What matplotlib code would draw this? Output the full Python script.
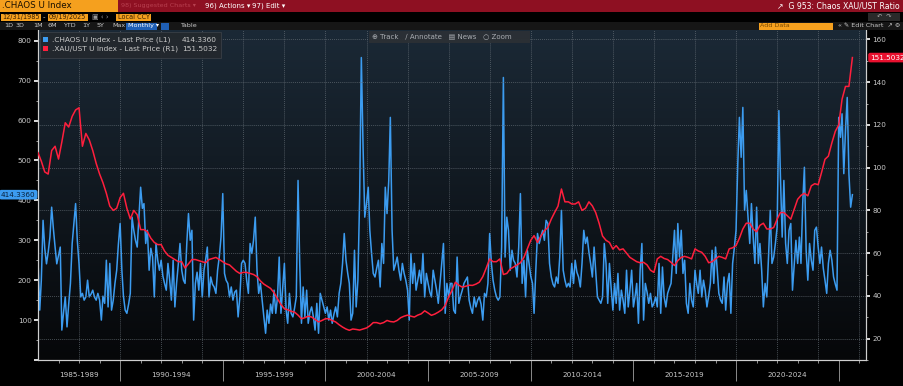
import matplotlib.pyplot as plt
import matplotlib.patches as mpatches
import matplotlib.transforms as mtransforms
import numpy as np
import pandas as pd

# .CHAOS U Index, monthly, Jan 1986 .. Sep 2025 (left axis)
chaos = [
    250, 125, 200, 350, 280, 241, 270, 308, 383, 330, 283, 241,
    262, 283, 75, 120, 158, 83, 140, 192, 292, 340, 392, 300,
    241, 158, 167, 150, 158, 200, 158, 165, 175, 158, 150, 167,
    150, 100, 160, 142, 250, 133, 242, 125, 150, 192, 225, 290,
    342, 225, 160, 125, 117, 140, 167, 358, 325, 300, 283, 358,
    433, 380, 392, 292, 325, 225, 280, 258, 158, 292, 250, 225,
    250, 210, 192, 175, 242, 200, 150, 250, 133, 192, 240, 292,
    225, 200, 192, 292, 367, 300, 325, 100, 192, 220, 175, 242,
    158, 225, 250, 283, 158, 208, 190, 183, 167, 225, 260, 308,
    417, 217, 200, 192, 158, 183, 150, 170, 175, 108, 158, 242,
    250, 242, 200, 167, 292, 267, 300, 358, 225, 167, 192, 150,
    108, 67, 125, 92, 140, 117, 175, 117, 158, 258, 117, 180,
    242, 125, 92, 167, 117, 108, 130, 158, 450, 242, 92, 183,
    108, 175, 92, 120, 133, 108, 75, 142, 67, 167, 150, 133,
    117, 133, 100, 125, 92, 115, 133, 108, 167, 192, 242, 317,
    250, 217, 192, 100, 117, 275, 133, 200, 408, 758, 533, 358,
    392, 433, 325, 267, 217, 208, 230, 250, 183, 292, 242, 433,
    367, 450, 608, 325, 225, 240, 258, 225, 200, 242, 217, 200,
    175, 100, 267, 192, 242, 175, 200, 225, 192, 267, 158, 217,
    192, 170, 158, 225, 200, 175, 142, 192, 240, 292, 117, 192,
    158, 192, 192, 125, 117, 258, 142, 160, 175, 192, 200, 208,
    150, 130, 117, 158, 133, 150, 158, 140, 100, 167, 158, 192,
    317, 242, 200, 175, 158, 150, 158, 283, 708, 258, 358, 325,
    225, 275, 250, 242, 208, 283, 417, 192, 250, 158, 275, 242,
    210, 192, 117, 225, 317, 292, 310, 325, 300, 350, 342, 242,
    208, 190, 183, 208, 192, 258, 375, 225, 200, 183, 192, 183,
    242, 192, 250, 220, 208, 183, 242, 325, 292, 308, 270, 242,
    208, 283, 225, 158, 150, 142, 158, 292, 242, 142, 242, 180,
    125, 192, 142, 217, 125, 175, 150, 117, 225, 133, 175, 225,
    133, 160, 192, 92, 225, 292, 100, 192, 170, 142, 167, 133,
    142, 158, 133, 242, 117, 233, 158, 133, 167, 180, 192, 258,
    325, 217, 342, 258, 325, 217, 250, 142, 117, 192, 150, 133,
    225, 190, 167, 225, 158, 200, 175, 133, 160, 192, 275, 192,
    283, 225, 167, 150, 142, 208, 125, 192, 217, 117, 242, 280,
    325, 492, 608, 508, 633, 375, 425, 358, 292, 392, 308, 242,
    383, 242, 292, 225, 133, 192, 158, 258, 375, 242, 258, 292,
    333, 625, 458, 308, 450, 292, 242, 325, 342, 175, 240, 300,
    242, 308, 242, 392, 483, 275, 200, 292, 250, 225, 325, 333,
    283, 242, 283, 230, 200, 167, 242, 275, 250, 208, 190, 175,
    608, 558, 617, 467, 575, 658, 467, 383, 414.336,
]

# .XAU/UST U Index, every second month, Jan 1986 .. Sep 2025 (right axis)
xau_ust = [
    107, 103, 98, 97, 108, 110, 104, 112, 121, 119, 124, 127,
    128, 110, 116, 113, 108, 102, 97, 93, 88, 82, 80, 81,
    86, 88, 81, 76, 80, 78, 71, 71, 70, 67, 65, 64,
    64, 61, 59, 58, 57, 56, 56, 53, 55, 57, 57, 56.5,
    56, 55.5, 57, 57.5, 58, 57, 56, 55, 54.5, 53, 51.5, 50.5,
    51, 51, 50.5, 50, 49, 47, 45.5, 44.5, 43.5, 41.5, 38.6, 36,
    34, 33.5, 32.8, 32.4, 31, 29.3, 29.8, 30.5, 30.1, 29, 27.8, 28.5,
    29.3, 29.3, 28.5, 27.8, 26.5, 25.4, 24.5, 23.9, 24.5, 24.3, 24, 24.5,
    25, 26, 27.5, 27.5, 27, 27.5, 28.5, 28, 27.8, 28.5, 29.8, 30.5,
    31, 30.5, 30.1, 31, 31.6, 33, 32, 30.9, 31.5, 32.4, 33.5, 35.5,
    39.5, 42.5, 46.4, 45, 44.1, 44.5, 45, 44.9, 45.5, 46.4, 49, 53,
    57.3, 56, 56, 57.3, 50, 50.5, 52.6, 53.5, 54.5, 55.5, 58, 62,
    66, 68.2, 65, 68, 70.5, 72, 75.9, 79, 82, 90, 84, 84,
    83, 83, 84, 80, 81, 84, 82.1, 79, 74, 68, 66, 65,
    61.9, 63.5, 61.5, 62, 60, 58, 57, 56, 55.5, 55.7, 54.5, 52,
    51, 57.3, 58.5, 57.5, 57, 55.7, 54.2, 56.5, 58, 58.5, 58, 57.3,
    62, 61, 60.4, 58.5, 55.5, 56, 57.3, 58.5, 58, 57.3, 62, 62.5,
    63.5, 67, 71.3, 74, 74, 71.3, 70, 73, 74, 71.3, 71.3, 72,
    75.9, 79, 79, 77.5, 75.9, 80.6, 85.2, 87, 88, 86.8, 91.5, 92.5,
    92, 97.7, 103.9, 105.4, 111.6, 117, 120, 132, 138, 138, 151.5032,
]

chaos_dates = pd.date_range('1986-01-01', periods=len(chaos), freq='MS')
ratio_dates = pd.date_range('1986-01-01', periods=len(xau_ust), freq='2MS')

group_starts = [1985, 1990, 1995, 2000, 2005, 2010, 2015, 2020]
group_labels = ['1985-1989', '1990-1994', '1995-1999', '2000-2004',
                '2005-2009', '2010-2014', '2015-2019', '2020-2024']

BLUE = '#3c9cf0'
RED = '#ff1f3d'
TXT = '#c9c9c9'
ORANGE = '#f5a01e'
DARKRED = '#8e1022'

plt.rcParams['font.family'] = ['DejaVu Sans', 'Noto Sans', 'Noto Sans CJK SC']

W, H = 904, 386
fig = plt.figure(figsize=(W / 100, H / 100), dpi=100, facecolor='black')

# plot area in pixels: left 38, right 866, top 30, bottom 360
pos = [38 / W, 1 - 360 / H, (866 - 38) / W, (360 - 30) / H]

# gradient background
bg = fig.add_axes(pos, zorder=0)
grad = np.linspace(0, 1, 256).reshape(-1, 1)
top = np.array([27, 41, 54]) / 255
bot = np.array([6, 7, 9]) / 255
img = top * (1 - grad[..., None]) + bot * grad[..., None]
bg.imshow(img, aspect='auto', extent=[0, 1, 0, 1])
bg.set_axis_off()

ax = fig.add_axes(pos, zorder=1)
ax.patch.set_visible(False)
ax2 = ax.twinx()
ax2.patch.set_visible(False)

ax.plot(chaos_dates, chaos, color=BLUE, lw=1.1, zorder=3)
ax2.plot(ratio_dates, xau_ust, color=RED, lw=1.1, zorder=4)

ax.set_xlim(pd.Timestamp('1986-01-01'), pd.Timestamp('2026-05-01'))
ax.set_ylim(0, 827)
ax2.set_ylim(10.7, 164.4)

# y ticks
ax.set_yticks(range(0, 801, 100))
ax.set_yticklabels([''] + [str(v) for v in range(100, 801, 100)])
ax.set_yticks(range(50, 801, 100), minor=True)
ax2.set_yticks(range(20, 161, 20))
ax2.set_yticks(range(10, 161, 20), minor=True)
for a in (ax, ax2):
    a.tick_params(axis='y', which='major', length=3, width=1.2, color='white',
                  labelcolor=TXT, labelsize=5.2, pad=1.5)
    a.tick_params(axis='y', which='minor', length=1.5, width=0.6, color='#bbbbbb')

# x ticks: long separators every five years, small ticks every year
sep = [pd.Timestamp(f'{y}-01-01') for y in range(1990, 2026, 5)]
ax.set_xticks(sep)
ax.set_xticklabels([''] * len(sep))
ax.set_xticks([pd.Timestamp(f'{y}-01-01') for y in range(1987, 2027)], minor=True)
ax.tick_params(axis='x', which='major', length=15, width=0.7, color='#8a8a8a')
ax.tick_params(axis='x', which='minor', length=2, width=0.6, color='#aaaaaa')

trans = mtransforms.blended_transform_factory(ax.transData, ax.transAxes)
for start, lab in zip(group_starts, group_labels):
    lo = max(start, 1986)
    mid = pd.Timestamp(f'{lo}-01-01') + (pd.Timestamp(f'{start + 5}-01-01') - pd.Timestamp(f'{lo}-01-01')) / 2
    ax.text(mid, -0.046, lab, transform=trans, ha='center', va='center',
            fontsize=5.2, color=TXT)

# grid: vertical every 2 years, horizontal on right scale
for y in range(1988, 2027, 2):
    ax.axvline(pd.Timestamp(f'{y}-01-01'), color='#6a737b', lw=0.5, ls=(0, (1.2, 1.6)), zorder=1)
ax2.grid(axis='y', color='#6a737b', lw=0.5, ls=(0, (1.2, 1.6)))
ax2.set_axisbelow(True)

for a in (ax, ax2):
    a.spines['top'].set_visible(False)
    for s in ('left', 'right', 'bottom'):
        a.spines[s].set_color('#cfcfcf')
        a.spines[s].set_linewidth(0.8)

# last value tags
tl = mtransforms.blended_transform_factory(fig.transFigure, ax.transData)
ax.text(1 / W, chaos[-1], f'{chaos[-1]:.4f}', transform=tl, ha='left', va='center',
        fontsize=5.2, color='#07203a',
        bbox=dict(boxstyle='round,pad=0.25,rounding_size=0.3', fc=BLUE, ec='none'))
tr = mtransforms.blended_transform_factory(fig.transFigure, ax2.transData)
ax2.text(870 / W, xau_ust[-1], f'{xau_ust[-1]:.4f}', transform=tr, ha='left', va='center',
         fontsize=5.2, color='white',
         bbox=dict(boxstyle='round,pad=0.25,rounding_size=0.3', fc='#e8102e', ec='none'))

# header / overlays in pixel space
ov = fig.add_axes([0, 0, 1, 1], zorder=5)
ov.set_xlim(0, W)
ov.set_ylim(H, 0)
ov.set_axis_off()
ov.patch.set_visible(False)

def box(x, y, w, h, fc, ec='none', lw=0, alpha=1):
    ov.add_patch(mpatches.Rectangle((x, y), w, h, fc=fc, ec=ec, lw=lw, alpha=alpha))

def txt(x, y, s, color=TXT, size=5.5, ha='left', **kw):
    ov.text(x, y, s, color=color, fontsize=size, ha=ha, va='center', **kw)

# row 1
box(0, 0, W, 11.5, DARKRED)
box(0, 0, 118, 11.5, ORANGE)
txt(2, 6, '.CHAOS U Index', color='#1a1000', size=6.3)
txt(121, 6, '98) Suggested Charts \u25be', color='#b84050', size=4.6)
txt(205, 6, '96) Actions \u25be', color='white', size=5)
txt(252, 6, '97) Edit \u25be', color='white', size=5)
txt(900, 6, '\u2197  G 953: Chaos XAU/UST Ratio', color='white', size=5.6, ha='right')

# row 2
box(0, 11.5, W, 10, 'black')
box(1, 13.5, 40, 7, ORANGE)
txt(2, 17, '12/31/1985', color='#3a2000', size=4.7)
txt(43, 17, '-', color=TXT, size=5)
box(48, 13.5, 40, 7, ORANGE)
txt(49, 17, '09/19/2025', color='#3a2000', size=4.7)
txt(92, 17, '\u25a3 \u2039 \u203a', color='#999999', size=5)
box(116, 13.5, 35, 7, ORANGE)
txt(118, 17, 'Local CCY', color='#3a2000', size=4.7)
box(868, 13, 32, 8, '#2a2a2a')
txt(884, 17, '\u21b6  \u21b7', color='#aaaaaa', size=4.5, ha='center')

# row 3
box(0, 21.5, W, 8.5, '#161616')
for lab, x in [('1D', 4), ('3D', 16), ('1M', 33), ('6M', 48), ('YTD', 63), ('1Y', 82),
               ('5Y', 97), ('Max', 112)]:
    txt(x, 25.8, lab, color=TXT, size=4.6)
box(126, 22.5, 31, 7, '#1f5fb5')
txt(128, 25.8, 'Monthly \u25be', color='white', size=4.6)
box(161, 22.5, 8, 7, '#1f5fb5')
txt(180, 25.8, 'Table', color=TXT, size=4.6)
box(759, 22.5, 74, 7, ORANGE)
txt(760, 25.8, 'Add Data', color='#7a4a00', size=4.6)
txt(838, 25.8, '\u00ab \u270e Edit Chart  \u2197 \u2699', color=TXT, size=4.6)

# toolbar on chart
box(369, 31, 161, 12, '#2b3035', alpha=0.95)
txt(372, 37, '\u2295 Track   \u2215 Annotate   \u25a4 News   \u25cb Zoom', color='#a9adb2', size=5)

# legend
box(40, 32, 181, 26, '#23282d', ec='#3a4047', lw=0.6, alpha=0.95)
box(43, 37, 5, 5, BLUE)
box(43, 46, 5, 5, RED)
txt(52, 40, '.CHAOS U Index - Last Price (L1)', color=TXT, size=5.3)
txt(217, 40, f'{chaos[-1]:.4f}', color=TXT, size=5.3, ha='right')
txt(52, 49, '.XAU/UST U Index - Last Price (R1)', color=TXT, size=5.3)
txt(217, 49, f'{xau_ust[-1]:.4f}', color=TXT, size=5.3, ha='right')

fig.savefig('out.png', dpi=100, facecolor='black')
